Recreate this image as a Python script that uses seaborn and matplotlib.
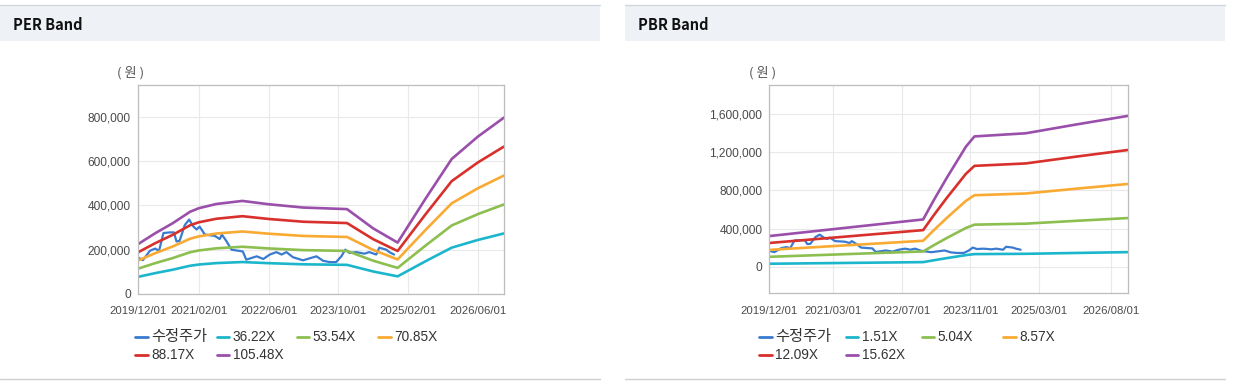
import matplotlib
matplotlib.use("Agg")
import matplotlib.pyplot as plt
import seaborn as sns
import pandas as pd
from matplotlib.lines import Line2D
from matplotlib.patches import Rectangle
from matplotlib.ticker import FuncFormatter

# ---------------- data (values in thousand won, x in months since 2019/12/01) -------------
price_month = [0, 1.2, 2.8, 4.0, 4.9, 5.9, 7.4, 8.3, 8.9, 9.6, 10.8, 11.8, 12.7, 13.5, 14.2,
               15.4, 17.7, 18.8, 19.3, 20.3, 21.5, 24.1, 24.9, 27.3, 28.8, 30.3, 31.8, 33.0,
               34.1, 35.6, 37.9, 39.8, 41.0, 42.5, 44.0, 45.5, 46.7, 47.6, 48.6, 50.1, 52.0,
               53.1, 54.7, 55.4, 57.0, 57.7, 58.8]
price_value = [165, 153, 195, 205, 195, 275, 278, 278, 237, 240, 311, 336, 306, 291, 304,
               268, 262, 248, 268, 240, 200, 192, 155, 170, 158, 178, 189, 178,
               189, 166, 152, 163, 170, 150, 144, 144, 170, 200, 185, 189, 182,
               189, 178, 209, 200, 189, 178]

per_month = [0, 4, 8, 12, 14, 18, 24, 30, 38, 48, 54, 59.6, 66, 72, 78, 84]
per_36 = [76.9, 94.1, 109.5, 127.4, 132.9, 139.4, 144.2, 139.1, 133.9, 131.5, 101.6, 79.6, 147.7, 209.1, 243.8, 273.4]
per_53 = [113.7, 139.1, 161.9, 188.3, 196.4, 206.1, 213.2, 205.6, 197.9, 194.4, 150.2, 117.7, 218.3, 309.1, 360.4, 404.1]
per_70 = [150.5, 184.1, 214.3, 249.2, 259.9, 272.7, 282.1, 272.1, 261.9, 257.3, 198.8, 155.8, 288.9, 409.1, 476.9, 534.7]
per_88 = [187.3, 229.1, 266.6, 310.1, 323.5, 339.4, 351.1, 338.6, 326.0, 320.1, 247.4, 193.9, 359.5, 509.1, 593.5, 665.4]
per_105 = [224, 274, 319, 371, 387, 406, 420, 405, 390, 383, 296, 232, 430, 609, 710, 796]
per_labels = ["36.22X", "53.54X", "70.85X", "88.17X", "105.48X"]
per_ticks = ["2019/12/01", "2021/02/01", "2022/06/01", "2023/10/01", "2025/02/01", "2026/06/01"]

pbr_month = [0, 36, 38.5, 41.5, 46, 48, 60, 72, 84]
pbr_1 = [31.0, 47.9, 67.5, 89.8, 121.6, 132.0, 135.1, 144.2, 152.8]
pbr_5 = [103.6, 159.8, 225.3, 299.9, 405.7, 440.5, 451.1, 481.3, 510.0]
pbr_8 = [176.1, 271.7, 383.1, 509.9, 689.9, 749.0, 767.0, 818.4, 867.3]
pbr_12 = [248.5, 383.3, 540.4, 719.4, 973.2, 1056.7, 1082.1, 1154.6, 1223.5]
pbr_15 = [321.0, 495.2, 698.2, 929.4, 1257.4, 1365.2, 1398.0, 1491.7, 1580.9]
pbr_labels = ["1.51X", "5.04X", "8.57X", "12.09X", "15.62X"]
pbr_ticks = ["2019/12/01", "2021/03/01", "2022/07/01", "2023/11/01", "2025/03/01", "2026/08/01"]

price_label = "수정주가"
band_colors = ["#1cb6cc", "#8cbe50", "#f9aa33", "#d8302c", "#9a4faa"]
price_color = "#3a7bd0"

# ---------------- style ----------------
sns.set_theme(style="white")
plt.rcParams["font.family"] = ["Liberation Sans", "Noto Sans CJK KR"]

W, H = 1233, 389
fig = plt.figure(figsize=(W / 100, H / 100), dpi=100)
fig.patch.set_facecolor("white")


def fx(x):
    return x / W


def fy(y):
    return 1 - y / H


def month_of(label):
    y, m, _ = label.split("/")
    return (int(y) - 2019) * 12 + int(m) - 12


def panel(px0, px1, title):
    fig.add_artist(Rectangle((fx(px0), fy(40.5)), fx(px1 - px0), (40.5 - 5) / H,
                             transform=fig.transFigure, facecolor="#eef2f7",
                             edgecolor="none", zorder=0))
    fig.add_artist(Line2D([fx(px0), fx(px1)], [fy(5), fy(5)], transform=fig.transFigure,
                          color="#d3d7dc", lw=1))
    fig.add_artist(Line2D([fx(px0), fx(px1)], [fy(379), fy(379)], transform=fig.transFigure,
                          color="#cfcfcf", lw=1))
    fig.text(fx(px0 + 13), fy(24.5), title, fontsize=10.5, fontweight="bold",
             family=["Noto Sans CJK KR"], color="#111111", va="center", ha="left")


def chart(rect_px, months, bands, labels, ticks, ylim, yticks, unit_xy, leg_cols, leg_rows):
    x0, y0, x1, y1 = rect_px
    ax = fig.add_axes([fx(x0), fy(y1), fx(x1 - x0), (y1 - y0) / H])
    ax.set_facecolor("white")
    sns.lineplot(x=price_month, y=price_value, ax=ax, color=price_color, lw=1.6,
                 estimator=None, sort=False)
    for vals, col in zip(bands, band_colors):
        sns.lineplot(x=months, y=vals, ax=ax, color=col, lw=1.9, estimator=None, sort=False)
    ax.set_xlim(0, 84)
    ax.set_ylim(*ylim)
    ax.set_xticks([month_of(t) for t in ticks])
    ax.set_xticklabels(ticks)
    ax.set_yticks(yticks)
    ax.yaxis.set_major_formatter(FuncFormatter(lambda v, _: f"{v * 1000:,.0f}"))
    ax.tick_params(axis="x", length=0, pad=9, labelsize=8.2, colors="#4a4a4a")
    ax.tick_params(axis="y", length=0, pad=5, labelsize=8.6, colors="#4a4a4a")
    ax.grid(True, color="#e9e9e9", lw=0.8)
    ax.set_axisbelow(True)
    for s in ax.spines.values():
        s.set_color("#bdbdbd")
        s.set_linewidth(0.9)
    ax.set_xlabel("")
    ax.set_ylabel("")
    fig.text(fx(unit_xy[0]), fy(unit_xy[1]), "( 원 )", fontsize=9.5, color="#555555",
             family=["Noto Sans CJK KR"], ha="center", va="center")
    items = [(price_label, price_color)] + list(zip(labels, band_colors))
    for i, (lab, col) in enumerate(items):
        r, c = divmod(i, 4)
        lx, ly = leg_cols[c], leg_rows[r]
        fig.add_artist(Line2D([fx(lx), fx(lx + 12.5)], [fy(ly), fy(ly)],
                              transform=fig.transFigure, color=col, lw=2.0))
        fs = 11 if lab == price_label else 9.8
        fig.text(fx(lx + 16), fy(ly), lab, fontsize=fs, color="#333333", ha="left", va="center")
    return ax


panel(0, 600, "PER Band")
panel(625, 1225, "PBR Band")

chart((137.7, 85, 504, 294), per_month, [per_36, per_53, per_70, per_88, per_105],
      per_labels, per_ticks, (0, 943), [0, 200, 400, 600, 800], (131, 73),
      [135, 216.7, 296.7, 378.3], [336.7, 355])

chart((769.3, 85, 1128.3, 293), pbr_month, [pbr_1, pbr_5, pbr_8, pbr_12, pbr_15],
      pbr_labels, pbr_ticks, (-275.6, 1904), [0, 400, 800, 1200, 1600], (763, 73),
      [759.3, 846, 921.7, 1003.3], [336.7, 355])

fig.savefig("out.png", dpi=100)
